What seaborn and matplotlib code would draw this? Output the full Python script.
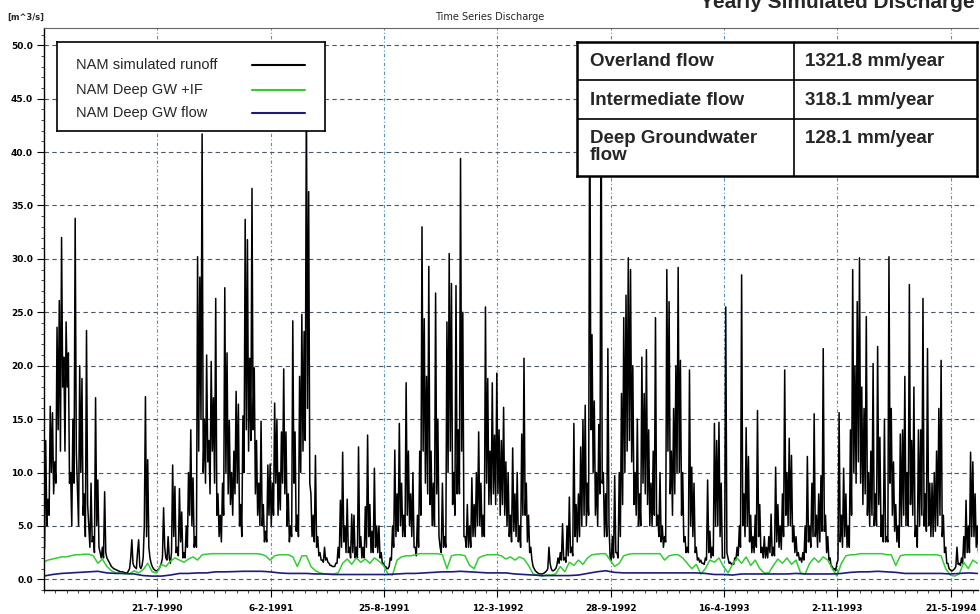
import numpy as np
import pandas as pd
import matplotlib
matplotlib.use('Agg')
import matplotlib.pyplot as plt
from matplotlib.ticker import MultipleLocator, AutoMinorLocator, FormatStrFormatter
import seaborn as sns

# NAM simulated runoff [m^3/s], spike readings every 4 days from 1-1-1990
runoff = [
    2.0, 13.0, 7.5, 16.2, 15.6, 11.0, 23.6, 26.1, 32.0, 20.8, 24.1, 21.2, 10.0, 15.0, 33.8, 8.5, 20.0, 18.8, 8.0, 23.3, 5.0, 9.0, 4.0, 17.0, 9.3,
    2.5, 3.0, 8.2, 2.0, 1.6, 1.2, 1.0, 0.9, 0.8, 0.7, 0.7, 0.6, 0.6, 1.0, 3.7, 1.2, 1.0, 3.7, 1.0, 2.0, 17.1, 11.2, 2.0, 1.2, 0.9,
    0.8, 1.0, 1.5, 6.7, 2.0, 4.0, 1.5, 10.7, 8.7, 3.0, 8.5, 6.3, 2.5, 5.0, 10.0, 14.0, 9.5, 4.0, 30.2, 28.3, 41.7, 15.0, 21.0, 13.0, 20.4,
    17.0, 26.3, 8.0, 6.0, 9.0, 27.3, 21.2, 14.9, 10.0, 12.0, 17.6, 16.4, 7.0, 15.3, 33.7, 31.8, 20.7, 36.6, 19.8, 13.0, 9.0, 14.8, 7.0, 4.5, 10.7,
    10.8, 9.0, 16.5, 15.0, 10.0, 13.8, 19.7, 13.8, 8.0, 5.0, 24.2, 13.8, 6.0, 19.0, 24.8, 23.2, 46.0, 36.3, 8.0, 6.0, 11.6, 4.0, 2.5, 1.8, 3.0,
    2.0, 1.5, 1.3, 1.2, 1.5, 3.0, 7.4, 11.9, 5.0, 7.5, 3.0, 6.1, 6.0, 3.0, 12.4, 4.0, 3.0, 6.8, 13.5, 7.0, 4.5, 10.4, 5.0, 5.0, 2.5,
    1.5, 1.2, 1.0, 2.0, 5.0, 12.1, 8.0, 14.6, 9.0, 6.0, 18.4, 12.0, 8.0, 10.0, 3.0, 6.0, 12.0, 33.0, 24.4, 19.0, 29.3, 12.0, 9.0, 26.8, 15.0,
    3.0, 9.0, 4.0, 24.1, 30.5, 27.7, 10.0, 27.5, 14.0, 39.4, 25.0, 4.0, 7.0, 5.0, 9.5, 7.0, 10.0, 13.8, 9.0, 6.0, 25.5, 18.8, 12.0, 18.4, 13.5,
    19.3, 14.0, 13.0, 16.1, 11.0, 10.0, 6.0, 12.3, 8.0, 10.0, 5.0, 13.6, 20.7, 9.0, 6.0, 3.0, 1.2, 0.8, 0.6, 0.5, 0.5, 0.6, 0.8, 3.0, 1.0,
    0.8, 1.0, 2.0, 2.5, 5.2, 2.0, 5.0, 7.7, 3.0, 14.6, 7.0, 8.0, 12.4, 14.9, 16.3, 9.0, 48.0, 22.9, 16.7, 10.0, 14.5, 48.0, 10.0, 8.0, 21.6,
    2.0, 4.0, 9.7, 2.5, 10.0, 17.4, 24.5, 26.6, 30.1, 29.0, 20.0, 10.0, 15.0, 8.0, 20.8, 17.4, 21.5, 14.0, 9.0, 12.0, 24.5, 6.0, 10.0, 5.0, 4.0,
    29.0, 26.0, 12.0, 16.0, 20.0, 29.2, 20.5, 10.0, 4.0, 3.0, 19.6, 10.5, 9.0, 3.0, 2.0, 1.8, 1.5, 2.0, 9.3, 4.5, 3.0, 14.6, 13.0, 14.7, 9.0,
    2.0, 25.5, 2.0, 1.6, 1.5, 2.0, 3.0, 5.0, 28.5, 8.0, 14.2, 11.5, 6.0, 4.0, 6.0, 15.8, 7.0, 3.0, 4.0, 3.0, 4.0, 6.1, 3.0, 10.5, 7.0,
    5.0, 8.0, 19.6, 10.0, 13.2, 11.6, 5.0, 4.0, 2.5, 2.0, 2.5, 5.0, 11.5, 5.0, 9.0, 15.5, 6.0, 8.0, 9.7, 21.6, 6.0, 4.0, 2.0, 1.2, 1.0,
    1.5, 15.6, 6.0, 10.4, 8.0, 5.0, 14.0, 29.0, 20.0, 26.0, 30.1, 18.0, 16.0, 24.6, 10.0, 12.0, 20.2, 8.0, 21.8, 13.3, 6.0, 15.0, 4.0, 30.2, 16.0,
    11.0, 7.0, 5.0, 13.6, 14.0, 19.0, 10.0, 27.6, 13.0, 18.0, 5.0, 14.0, 14.0, 26.3, 8.0, 21.6, 9.0, 9.0, 10.0, 12.0, 16.0, 20.5, 6.0, 3.0, 1.5,
    0.9, 0.8, 1.0, 3.0, 1.5, 2.0, 4.0, 7.4, 5.0, 11.9, 11.0, 8.0, 5.0, 4.0,
]

# runoff readings between the spikes (2 days after each reading above)
runoff_low = [
    3.0, 5.0, 6.0, 10.0, 8.0, 9.0, 14.0, 12.0, 18.0, 12.0, 18.0, 9.0, 5.0, 9.0, 12.0, 5.0, 10.0, 6.0, 4.0, 7.0, 3.0, 3.5, 2.5, 5.0, 3.0,
    2.0, 2.0, 2.5, 1.8, 1.4, 1.1, 0.95, 0.85, 0.75, 0.7, 0.65, 0.6, 0.8, 2.0, 1.5, 1.1, 2.5, 1.2, 1.3, 5.0, 4.0, 3.0, 1.5, 1.0, 0.8,
    0.9, 1.2, 2.0, 3.0, 1.8, 2.0, 2.5, 4.0, 2.5, 2.2, 3.5, 2.0, 2.0, 3.0, 6.0, 5.0, 3.0, 3.0, 12.0, 15.0, 10.0, 9.0, 11.0, 8.0, 12.0,
    9.0, 6.0, 4.0, 3.5, 6.0, 10.0, 8.0, 7.0, 6.0, 8.0, 9.0, 5.0, 4.0, 10.0, 14.0, 12.0, 13.0, 14.0, 8.0, 6.0, 5.0, 5.0, 3.5, 3.5, 6.0,
    5.0, 6.0, 9.0, 6.0, 6.5, 9.0, 8.0, 5.0, 3.5, 4.0, 9.0, 4.5, 4.0, 10.0, 12.0, 13.0, 16.0, 9.0, 4.0, 3.5, 3.0, 2.2, 1.8, 1.6, 1.8,
    1.6, 1.3, 1.2, 1.2, 1.5, 2.0, 3.0, 3.5, 2.5, 2.5, 2.0, 2.5, 2.0, 2.0, 3.0, 2.0, 2.0, 3.0, 4.0, 2.5, 2.5, 3.0, 2.5, 2.0, 1.5,
    1.2, 1.0, 1.2, 1.8, 3.0, 4.0, 4.5, 5.0, 4.0, 4.0, 6.0, 5.0, 4.0, 3.0, 2.2, 3.0, 6.0, 12.0, 9.0, 8.0, 7.0, 5.0, 5.0, 8.0, 4.0,
    2.5, 3.0, 3.0, 10.0, 12.0, 7.0, 6.0, 8.0, 8.0, 12.0, 4.0, 3.0, 3.0, 3.0, 4.0, 4.0, 5.0, 5.0, 4.0, 4.0, 9.0, 7.0, 7.0, 8.0, 7.0,
    8.0, 6.0, 7.0, 6.0, 5.0, 4.0, 3.5, 4.5, 4.0, 3.5, 3.0, 6.0, 6.0, 3.5, 2.5, 1.8, 1.0, 0.7, 0.55, 0.5, 0.55, 0.7, 1.0, 1.5, 0.8,
    0.9, 1.3, 1.5, 1.8, 1.8, 1.6, 2.2, 2.5, 2.2, 4.0, 3.5, 4.0, 5.0, 6.0, 5.0, 6.0, 14.0, 10.0, 6.0, 5.0, 8.0, 9.0, 4.0, 4.0, 5.0,
    1.8, 2.0, 2.5, 2.0, 4.0, 7.0, 10.0, 12.0, 13.0, 11.0, 7.0, 6.0, 5.0, 5.0, 9.0, 8.0, 7.0, 5.0, 5.0, 6.0, 5.0, 4.0, 3.5, 3.0, 3.5,
    12.0, 8.0, 6.0, 8.0, 10.0, 10.0, 6.0, 3.5, 2.5, 2.5, 5.0, 4.0, 2.5, 1.8, 1.6, 1.5, 1.4, 1.8, 2.5, 2.0, 2.2, 5.0, 5.0, 4.0, 2.0,
    2.0, 2.5, 1.5, 1.4, 1.4, 1.8, 2.2, 3.0, 5.0, 4.0, 5.0, 3.5, 2.5, 2.5, 3.0, 4.0, 2.5, 2.0, 2.0, 2.0, 2.5, 2.2, 2.2, 3.5, 3.0,
    2.8, 4.0, 6.0, 5.0, 5.0, 3.5, 2.5, 2.2, 1.8, 1.6, 1.8, 2.5, 3.5, 3.0, 4.0, 4.0, 3.0, 3.5, 4.5, 4.5, 2.5, 1.8, 1.2, 0.9, 0.8,
    1.8, 3.5, 3.0, 4.0, 3.0, 3.0, 6.0, 10.0, 9.0, 11.0, 9.0, 7.0, 8.0, 6.0, 5.0, 6.0, 5.0, 5.0, 7.0, 4.0, 3.5, 3.5, 3.5, 9.0, 6.0,
    4.5, 3.5, 3.0, 5.0, 6.0, 5.0, 5.0, 7.0, 6.0, 4.0, 3.0, 5.0, 6.0, 5.0, 4.5, 5.0, 4.0, 4.0, 4.5, 5.0, 6.0, 4.0, 2.5, 1.5, 1.0,
    0.8, 0.9, 1.2, 1.4, 1.3, 1.5, 2.0, 2.5, 2.5, 4.0, 4.0, 3.0, 2.5,
]

# NAM deep GW + interflow, one reading every 8 days
gw_if = [
    1.6, 1.8, 1.9, 2.0, 2.1, 2.1, 2.2, 2.3, 2.3, 2.35,
    2.35, 2.2, 1.5, 1.9, 1.2, 0.8, 0.6, 0.6, 0.5, 0.5,
    0.8, 0.6, 0.9, 1.5, 0.7, 0.6, 1.4, 1.2, 1.7, 2.0,
    1.8, 1.6, 1.9, 2.1, 1.8, 2.3, 2.35, 2.4, 2.4, 2.4,
    2.4, 2.4, 2.4, 2.4, 2.4, 2.4, 2.4, 2.4, 2.35, 2.2,
    1.8, 2.2, 2.3, 2.3, 2.3, 2.1, 1.2, 2.2, 2.2, 1.2,
    0.8, 0.6, 0.5, 0.5, 0.5, 0.6, 1.5, 1.9, 1.4, 2.0,
    1.6, 1.9, 1.5, 2.0, 1.7, 1.3, 0.5, 0.4, 1.8, 2.1,
    2.2, 2.2, 2.3, 2.4, 2.4, 2.4, 2.4, 2.4, 2.3, 1.0,
    2.2, 2.3, 2.3, 2.2, 1.3, 1.0, 2.0, 2.2, 2.3, 2.3,
    2.3, 2.2, 1.9, 2.1, 1.8, 2.1, 1.9, 1.3, 0.5, 0.4,
    0.3, 0.4, 0.4, 0.5, 1.2, 0.7, 1.6, 1.3, 1.8, 1.4,
    2.0, 2.3, 2.35, 2.4, 2.4, 1.8, 1.2, 1.5, 2.2, 2.35,
    2.4, 2.4, 2.4, 2.4, 2.4, 2.4, 2.4, 1.8, 2.2, 2.3,
    2.3, 2.0, 1.5, 1.0, 1.4, 0.5, 1.0, 1.8, 1.6, 2.0,
    1.2, 0.6, 1.4, 2.0, 1.5, 2.1, 1.3, 1.8, 1.0, 0.6,
    0.6, 1.3, 1.9, 1.5, 2.0, 1.4, 1.8, 0.6, 0.5, 1.5,
    2.0, 1.6, 2.1, 1.8, 1.0, 0.3, 1.5, 2.2, 2.3, 2.3,
    2.4, 2.4, 2.4, 2.4, 2.4, 2.4, 2.3, 2.3, 1.3, 2.2,
    2.3, 2.3, 2.3, 2.3, 2.3, 2.3, 2.3, 2.3, 2.2, 1.0,
    0.4, 0.3, 0.5, 1.6, 1.0, 1.8, 1.5,
]

# NAM deep GW flow, one reading every 16 days
gw_deep = [
    0.3, 0.45, 0.55, 0.6, 0.65, 0.7, 0.75, 0.6, 0.55, 0.55,
    0.5, 0.35, 0.3, 0.3, 0.4, 0.55, 0.55, 0.6, 0.6, 0.7,
    0.7, 0.72, 0.75, 0.75, 0.75, 0.7, 0.6, 0.55, 0.55, 0.55,
    0.5, 0.5, 0.45, 0.45, 0.45, 0.45, 0.45, 0.45, 0.45, 0.5,
    0.55, 0.55, 0.6, 0.65, 0.7, 0.7, 0.75, 0.7, 0.65, 0.6,
    0.6, 0.6, 0.5, 0.45, 0.4, 0.35, 0.35, 0.35, 0.35, 0.4,
    0.55, 0.7, 0.8, 0.65, 0.6, 0.6, 0.6, 0.6, 0.6, 0.6,
    0.6, 0.6, 0.6, 0.55, 0.45, 0.45, 0.4, 0.5, 0.5, 0.5,
    0.5, 0.5, 0.5, 0.55, 0.5, 0.5, 0.5, 0.5, 0.55, 0.65,
    0.7, 0.7, 0.75, 0.7, 0.65, 0.55, 0.55, 0.55, 0.55, 0.55,
    0.5, 0.55, 0.6, 0.55,
]

series_names = ['NAM simulated runoff', 'NAM Deep GW +IF', 'NAM Deep GW flow']
series_colors = ['black', '#33cc33', '#1c1c7a']

tick_dates = ['1990-07-21', '1991-02-06', '1991-08-25', '1992-03-12',
              '1992-09-28', '1993-04-16', '1993-11-02', '1994-05-21']
tick_labels = ['21-7-1990', '6-2-1991', '25-8-1991', '12-3-1992',
               '28-9-1992', '16-4-1993', '2-11-1993', '21-5-1994']

table_rows = [('Overland flow', '1321.8 mm/year'),
              ('Intermediate flow', '318.1 mm/year'),
              ('Deep Groundwater\nflow', '128.1 mm/year')]

start = pd.Timestamp('1990-01-01')
df_run = pd.concat([
    pd.DataFrame({'date': pd.date_range(start, periods=len(runoff), freq='4D'), 'q': runoff}),
    pd.DataFrame({'date': pd.date_range(start + pd.Timedelta(days=2), periods=len(runoff_low), freq='4D'),
                  'q': runoff_low}),
]).sort_values('date')
df_if = pd.DataFrame({'date': pd.date_range(start, periods=len(gw_if), freq='8D'), 'q': gw_if})
df_deep = pd.DataFrame({'date': pd.date_range(start, periods=len(gw_deep), freq='16D'), 'q': gw_deep})

sns.set_style('white')
plt.rcParams['font.family'] = ['DejaVu Sans']

fig = plt.figure(figsize=(9.8, 6.14), dpi=100)
ax = fig.add_axes([0.0449, 0.0391, 0.953, 0.915])

sns.lineplot(data=df_run, x='date', y='q', ax=ax, color=series_colors[0], lw=1.1, errorbar=None)
sns.lineplot(data=df_if, x='date', y='q', ax=ax, color=series_colors[1], lw=1.1, errorbar=None)
sns.lineplot(data=df_deep, x='date', y='q', ax=ax, color=series_colors[2], lw=1.2, errorbar=None)

ax.set_xlim(pd.Timestamp('1990-01-02'), pd.Timestamp('1994-07-08'))
ax.set_ylim(-1.0, 51.6)
ax.set_xlabel('')
ax.set_ylabel('')

# axis ticks
ax.set_xticks(pd.to_datetime(tick_dates))
ax.set_xticklabels(tick_labels, fontsize=6.5, fontweight='bold')
ax.xaxis.set_minor_locator(AutoMinorLocator(10))
ax.yaxis.set_major_locator(MultipleLocator(5))
ax.yaxis.set_minor_locator(MultipleLocator(1))
ax.yaxis.set_major_formatter(FormatStrFormatter('%.1f'))
for lab in ax.get_yticklabels():
    lab.set_fontsize(6.5)
    lab.set_fontweight('bold')
ax.tick_params(axis='both', which='major', direction='out', length=5, width=0.8,
               bottom=True, left=True, colors='black')
ax.tick_params(axis='x', which='major', pad=5)
ax.tick_params(axis='y', which='major', pad=3)
ax.tick_params(axis='both', which='minor', direction='out', length=2.5, width=0.6,
               bottom=True, left=True)

# grid
ax.set_axisbelow(True)
ax.yaxis.grid(True, color='#4d5866', linestyle=(0, (4, 3)), lw=0.8)
ax.xaxis.grid(True, which='major', color='#4f93c4', linestyle=(0, (3, 2, 1, 2)), lw=0.8)

for side in ['left', 'bottom']:
    ax.spines[side].set_color('black')
    ax.spines[side].set_linewidth(1.0)
ax.spines['top'].set_color('#666666')
ax.spines['top'].set_linewidth(0.8)
ax.spines['right'].set_visible(False)

# titles
fig.text(0.5, 1 - 17 / 614, 'Time Series Discharge', ha='center', va='center', fontsize=7)
fig.text(0.007, 1 - 17 / 614, '[m^3/s]', ha='left', va='center', fontsize=6, fontweight='bold')
# large heading that is cut by the top edge in the original
fig.text(700 / 980, 1 - 8 / 614, 'Yearly Simulated Discharge', ha='left', va='baseline',
         fontsize=15, fontweight='bold', family='Liberation Sans')

# legend box
lax = fig.add_axes([57 / 980, 1 - 131 / 614, 268 / 980, 89 / 614])
lax.set_xlim(0, 1)
lax.set_ylim(0, 1)
lax.set_xticks([])
lax.set_yticks([])
lax.set_facecolor('white')
for s in lax.spines.values():
    s.set_color('black')
    s.set_linewidth(1.2)
for name, color, ypos in zip(series_names, series_colors, [0.742, 0.461, 0.202]):
    lax.text(0.071, ypos, name, va='center', fontsize=10.5, family='Liberation Sans')
    lax.plot([0.728, 0.925], [ypos, ypos], color=color, lw=1.5)

# flow summary table
tax = fig.add_axes([577 / 980, 1 - 176 / 614, 400 / 980, 134 / 614])
tax.set_xlim(0, 1)
tax.set_ylim(0, 1)
tax.set_xticks([])
tax.set_yticks([])
tax.set_facecolor('white')
for s in tax.spines.values():
    s.set_color('black')
    s.set_linewidth(1.8)
tax.axvline(0.5425, color='black', lw=1.2)
for yl in [0.716, 0.4254]:
    tax.axhline(yl, color='black', lw=1.2)
for (name, val), ytop in zip(table_rows, [0.92, 0.63, 0.345]):
    tax.text(0.0325, ytop, name, va='top', fontsize=13.5, fontweight='bold',
             family='Liberation Sans', linespacing=1.05)
    tax.text(0.57, ytop, val, va='top', fontsize=13.5, fontweight='bold',
             family='Liberation Sans')

fig.savefig('out.png', dpi=100)
